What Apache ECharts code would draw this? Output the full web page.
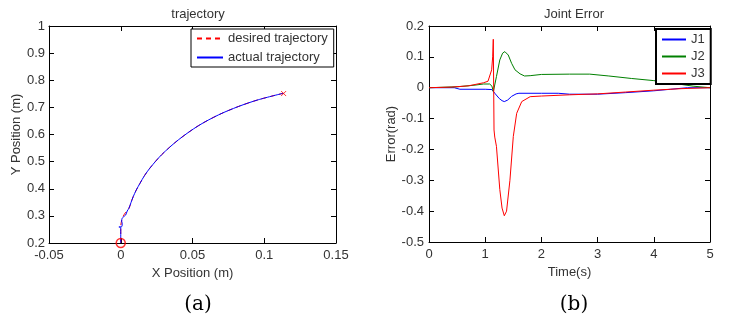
<!DOCTYPE html>
<html><head><meta charset="utf-8">
<script src="https://cdn.jsdelivr.net/npm/echarts@6/dist/echarts.min.js"></script>
<style>html,body{margin:0;padding:0;background:#fff}#c{width:729px;height:322px}</style>
</head><body><div id="c"></div>
<script>
// ---- Data: trajectory (a) ----
const desiredX = [0, 0, 0.001, 0.003, 0.0057, 0.0072, 0.0087, 0.0108, 0.0134, 0.0165, 0.0203, 0.0284, 0.0401, 0.054, 0.068, 0.0819, 0.0958, 0.1132];
const desiredY = [0.2, 0.26, 0.29, 0.31, 0.328, 0.35, 0.371, 0.395, 0.42, 0.448, 0.476, 0.525, 0.58, 0.632, 0.672, 0.703, 0.728, 0.752];
const actualX = [0, 0, -0.0013, 0.0008, 0.001, 0.0006, 0.001, 0.002, 0.0034, 0.0045, 0.0057, 0.0072, 0.0087, 0.0108, 0.0134, 0.0165, 0.0203, 0.0284, 0.0401, 0.054, 0.068, 0.0819, 0.0958, 0.1132];
const actualY = [0.2, 0.257, 0.259, 0.261, 0.273, 0.281, 0.291, 0.297, 0.303, 0.318, 0.328, 0.35, 0.371, 0.395, 0.42, 0.448, 0.476, 0.525, 0.58, 0.632, 0.672, 0.703, 0.728, 0.752];
const startPoint = [0, 0.2];
const endPoint = [0.1135, 0.751];
// ---- Data: joint error (b) ----
const tJ1 = [0, 0.45, 0.55, 1.0, 1.12, 1.18, 1.25, 1.3, 1.34, 1.4, 1.47, 1.55, 1.6, 2.0, 2.3, 2.5, 3.0, 3.5, 4.0, 4.3, 4.6, 5];
const eJ1 = [0, 0, -0.005, -0.005, -0.006, -0.02, -0.035, -0.042, -0.045, -0.04, -0.028, -0.02, -0.018, -0.018, -0.018, -0.021, -0.021, -0.016, -0.01, -0.005, 0, 0];
const tJ2 = [0, 0.5, 0.8, 0.97, 1.08, 1.12, 1.145, 1.2, 1.26, 1.31, 1.35, 1.41, 1.47, 1.53, 1.62, 1.7, 1.8, 2.0, 2.5, 2.86, 3.2, 3.6, 4.0, 4.4, 4.7, 5];
const eJ2 = [0, 0.003, 0.008, 0.012, 0.012, 0.005, -0.013, 0.036, 0.09, 0.112, 0.117, 0.106, 0.079, 0.058, 0.045, 0.038, 0.039, 0.043, 0.044, 0.044, 0.038, 0.03, 0.023, 0.013, 0.005, 0];
const tJ3 = [0, 0.4, 0.7, 0.97, 1.05, 1.085, 1.115, 1.133, 1.144, 1.157, 1.17, 1.2, 1.26, 1.3, 1.34, 1.38, 1.44, 1.5, 1.56, 1.65, 1.8, 2.0, 2.5, 3.0, 3.5, 4.0, 4.5, 5];
const eJ3 = [0, 0.002, 0.006, 0.016, 0.021, 0.025, 0.058, 0.1, 0.157, -0.137, -0.16, -0.19, -0.33, -0.39, -0.415, -0.4, -0.3, -0.158, -0.083, -0.045, -0.029, -0.027, -0.023, -0.02, -0.014, -0.008, -0.003, 0];

const zip = (a, b) => a.map((v, i) => [v, b[i]]);
const FONT = 'Liberation Sans, Arial, sans-serif';
const TXT = '#333';

function frameAxes(gi, min, max, interval, isX, labelMargin) {
  return [{
    type: 'value', gridIndex: gi, min, max, interval,
    position: isX ? 'bottom' : 'left',
    axisLine: { show: true, onZero: false, lineStyle: { color: '#000', width: 1 } },
    axisTick: { show: true, inside: true, length: 5, lineStyle: { color: '#000' } },
    axisLabel: { color: TXT, fontSize: 13, fontFamily: FONT, margin: labelMargin },
    splitLine: { show: false }
  }, {
    type: 'value', gridIndex: gi, min, max, interval,
    position: isX ? 'top' : 'right',
    axisLine: { show: true, onZero: false, lineStyle: { color: '#000', width: 1 } },
    axisTick: { show: true, inside: true, length: 5, lineStyle: { color: '#000' } },
    axisLabel: { show: false },
    splitLine: { show: false }
  }];
}

const xa0 = frameAxes(0, -0.05, 0.15, 0.05, true, 6);
const ya0 = frameAxes(0, 0.2, 1, 0.1, false, 4);
const xa1 = frameAxes(1, 0, 5, 1, true, 6);
const ya1 = frameAxes(1, -0.5, 0.2, 0.1, false, 5);
const nameStyle = { color: TXT, fontSize: 13, fontFamily: FONT };
Object.assign(xa0[0], { name: 'X Position (m)', nameLocation: 'middle', nameGap: 20, nameTextStyle: nameStyle });
Object.assign(ya0[0], { name: 'Y Position (m)', nameLocation: 'middle', nameGap: 22, nameTextStyle: nameStyle });
Object.assign(xa1[0], { name: 'Time(s)', nameLocation: 'middle', nameGap: 20, nameTextStyle: nameStyle });
Object.assign(ya1[0], { name: 'Error(rad)', nameLocation: 'middle', nameGap: 31, nameTextStyle: nameStyle });

const legendCommon = {
  orient: 'vertical', itemHeight: 12, backgroundColor: '#fff', borderColor: '#000',
  itemStyle: { opacity: 0, borderWidth: 0 },
  textStyle: { fontSize: 13, color: TXT, fontFamily: FONT }
};

const chart = echarts.init(document.getElementById('c'), null, { renderer: 'canvas' });
chart.setOption({
  animation: false,
  backgroundColor: '#fff',
  title: [
    { text: 'trajectory', left: 193, top: 3, textAlign: 'center', textStyle: { fontSize: 13, fontWeight: 'normal', color: TXT, fontFamily: FONT } },
    { text: 'Joint Error', left: 569, top: 3, textAlign: 'center', textStyle: { fontSize: 13, fontWeight: 'normal', color: TXT, fontFamily: FONT } },
    { text: '(a)', left: 193, top: 290, textAlign: 'center', textStyle: { fontSize: 20, fontWeight: 'normal', color: '#000', fontFamily: 'DejaVu Serif, serif' } },
    { text: '(b)', left: 569, top: 290, textAlign: 'center', textStyle: { fontSize: 20, fontWeight: 'normal', color: '#000', fontFamily: 'DejaVu Serif, serif' } }
  ],
  grid: [
    { left: 49, top: 26, width: 287, height: 217 },
    { left: 429, top: 26, width: 281, height: 216 }
  ],
  xAxis: [...xa0, ...xa1],
  yAxis: [...ya0, ...ya1],
  legend: [
    Object.assign({}, legendCommon, { data: ['desired trajectory', 'actual trajectory'], left: 191, top: 29,
      itemWidth: 26, itemGap: 6, padding: [3, 6, 3, 5], borderWidth: 1 }),
    Object.assign({}, legendCommon, { data: ['J1', 'J2', 'J3'], left: 656, top: 29,
      itemWidth: 24, itemGap: 4, padding: [4, 6, 4, 5], borderWidth: 2 })
  ],
  series: [
    { name: 'desired trajectory', type: 'line', xAxisIndex: 0, yAxisIndex: 0, symbol: 'none', smooth: 0.3,
      data: zip(desiredX, desiredY), lineStyle: { color: '#ff0000', width: 1, type: [5, 4] }, itemStyle: { color: '#ff0000' } },
    { name: 'actual trajectory', type: 'line', xAxisIndex: 0, yAxisIndex: 0, symbol: 'none', smooth: 0.3,
      data: zip(actualX, actualY), lineStyle: { color: '#0000ff', width: 1 }, itemStyle: { color: '#0000ff' } },
    { type: 'scatter', xAxisIndex: 0, yAxisIndex: 0, clip: false, symbol: 'circle', symbolSize: 9,
      data: [startPoint], itemStyle: { color: 'rgba(0,0,0,0)', borderColor: '#ff0000', borderWidth: 1.5 }, z: 5 },
    { type: 'scatter', xAxisIndex: 0, yAxisIndex: 0, clip: false, symbol: 'path://M0,0L10,10M10,0L0,10', symbolSize: 5,
      data: [endPoint], itemStyle: { color: 'rgba(0,0,0,0)', borderColor: '#ff0000', borderWidth: 1 }, z: 5 },
    { name: 'J1', type: 'line', xAxisIndex: 2, yAxisIndex: 2, symbol: 'none', data: zip(tJ1, eJ1),
      lineStyle: { color: '#0000ff', width: 1 }, itemStyle: { color: '#0000ff' } },
    { name: 'J2', type: 'line', xAxisIndex: 2, yAxisIndex: 2, symbol: 'none', data: zip(tJ2, eJ2),
      lineStyle: { color: '#008000', width: 1 }, itemStyle: { color: '#008000' } },
    { name: 'J3', type: 'line', xAxisIndex: 2, yAxisIndex: 2, symbol: 'none', data: zip(tJ3, eJ3),
      lineStyle: { color: '#ff0000', width: 1 }, itemStyle: { color: '#ff0000' } }
  ]
});
</script></body></html>
